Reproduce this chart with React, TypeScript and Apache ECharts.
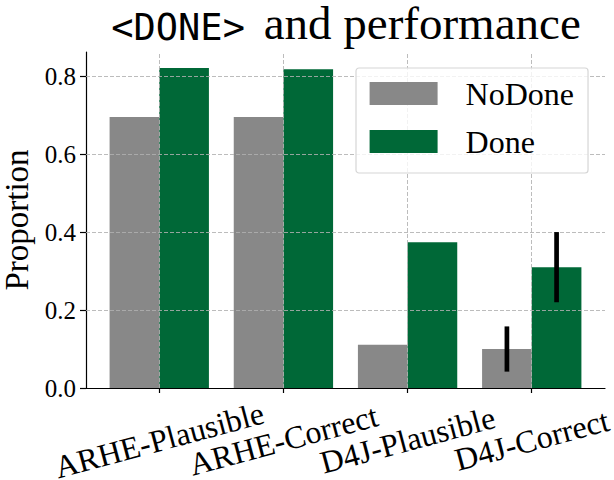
import React, { useEffect, useRef } from 'react';
import * as echarts from 'echarts';

const categories = ['ARHE-Plausible', 'ARHE-Correct', 'D4J-Plausible', 'D4J-Correct'];
const seriesNames = ['NoDone', 'Done'];
const noDoneValues = [0.695, 0.695, 0.111, 0.100];
const doneValues = [0.821, 0.818, 0.374, 0.310];
const noDoneErrors: (number | null)[] = [null, null, null, 0.058];
const doneErrors: (number | null)[] = [null, null, null, 0.090];
const yTicks = [0, 0.2, 0.4, 0.6, 0.8];
const titleMono = '<DONE>';
const titleRest = ' and performance';
const yAxisTitle = 'Proportion';

const GRAY = '#888888';
const GREEN = '#006837';
const BAR_WIDTH = 0.4;
const SERIF = "'Liberation Serif', 'Times New Roman', serif";

export default function App() {
  const ref = useRef<HTMLDivElement>(null);

  useEffect(() => {
    const chart = echarts.init(ref.current!, null, { renderer: 'svg' });
    const catIdx = categories.map((_, i) => i);

    const barRender = (offset: number) => (params: any, api: any) => {
      const x = api.value(0);
      const y = api.value(1);
      const p0 = api.coord([x + offset - BAR_WIDTH / 2, y]);
      const p1 = api.coord([x + offset + BAR_WIDTH / 2, 0]);
      return {
        type: 'rect',
        shape: { x: p0[0], y: p0[1], width: p1[0] - p0[0], height: p1[1] - p0[1] },
        style: { fill: api.visual('color') },
      };
    };

    const errData: number[][] = [];
    noDoneValues.forEach((v, i) => {
      const e = noDoneErrors[i];
      if (e != null) errData.push([i - BAR_WIDTH / 2, v, e]);
    });
    doneValues.forEach((v, i) => {
      const e = doneErrors[i];
      if (e != null) errData.push([i + BAR_WIDTH / 2, v, e]);
    });

    const gridLineData: any[] = [
      ...catIdx.map((i) => ({ xAxis: i })),
      ...yTicks.filter((t) => t > 0).map((t) => ({ yAxis: t })),
    ];

    const option: any = {
      animation: false,
      backgroundColor: '#ffffff',
      title: {
        text: `{tt|${titleMono}}{rm|${titleRest}}`,
        left: 346,
        top: 0,
        textAlign: 'center',
        padding: 0,
        textStyle: {
          fontWeight: 'normal',
          rich: {
            tt: { fontFamily: "'DejaVu Sans Mono', monospace", fontWeight: 'normal', fontSize: 37, color: '#000', verticalAlign: 'bottom', lineHeight: 46, padding: [0, 7, 0, 0] },
            rm: { fontFamily: SERIF, fontWeight: 'normal', fontSize: 47, color: '#000', verticalAlign: 'bottom', lineHeight: 46 },
          },
        },
      },
      legend: {
        data: seriesNames,
        orient: 'vertical',
        left: 356,
        top: 68,
        icon: 'rect',
        itemWidth: 68,
        itemHeight: 23,
        itemGap: 16,
        selectedMode: false,
        padding: [9.5, 14, 15.5, 13.6],
        backgroundColor: 'rgba(255,255,255,0.8)',
        borderColor: '#d6d6d6',
        borderWidth: 1.2,
        borderRadius: 3,
        textStyle: { fontFamily: SERIF, fontSize: 32, color: '#000', lineHeight: 32, padding: [0, 0, 0, 23] },
      },
      grid: { left: 86, right: 9, top: 52, bottom: 92, containLabel: false, outerBoundsMode: 'none' },
      xAxis: {
        type: 'value',
        min: -0.59,
        max: 3.59,
        axisLine: { show: true, onZero: false, lineStyle: { color: '#000', width: 1.2 } },
        axisTick: { show: true, customValues: catIdx, length: 5, lineStyle: { color: '#000', width: 1.2 } },
        axisLabel: {
          customValues: catIdx,
          formatter: (v: number) => categories[Math.round(v)] ?? '',
          rotate: 15,
          align: 'center',
          verticalAlign: 'middle',
          margin: 52,
          showMinLabel: true,
          showMaxLabel: true,
          hideOverlap: false,
          fontFamily: SERIF,
          fontSize: 32,
          color: '#000',
        },
        splitLine: { show: false },
      },
      yAxis: {
        type: 'value',
        min: 0,
        max: 0.862,
        name: yAxisTitle,
        nameLocation: 'middle',
        nameRotate: 90,
        nameGap: 50,
        nameTextStyle: { fontFamily: SERIF, fontSize: 33, color: '#000' },
        axisLine: { show: true, onZero: false, lineStyle: { color: '#000', width: 1.2 } },
        axisTick: { show: true, customValues: yTicks, length: 6, lineStyle: { color: '#000', width: 1.2 } },
        axisLabel: {
          customValues: yTicks,
          formatter: (v: number) => v.toFixed(1),
          margin: 10,
          showMinLabel: true,
          showMaxLabel: true,
          fontFamily: SERIF,
          fontSize: 25,
          color: '#000',
        },
        splitLine: { show: false },
      },
      series: [
        {
          name: seriesNames[0],
          type: 'custom',
          z: 2,
          itemStyle: { color: GRAY },
          renderItem: barRender(-BAR_WIDTH / 2),
          data: noDoneValues.map((v, i) => [i, v]),
          markLine: {
            silent: true,
            z: 3,
            symbol: ['none', 'none'],
            label: { show: false },
            emphasis: { disabled: true },
            lineStyle: { color: 'rgba(176,176,176,0.85)', width: 1, type: [4, 2] },
            data: gridLineData,
          },
        },
        {
          name: seriesNames[1],
          type: 'custom',
          z: 2,
          itemStyle: { color: GREEN },
          renderItem: barRender(BAR_WIDTH / 2),
          data: doneValues.map((v, i) => [i, v]),
        },
        {
          name: 'errors',
          type: 'custom',
          z: 6,
          silent: true,
          renderItem: (params: any, api: any) => {
            const x = api.value(0);
            const y = api.value(1);
            const e = api.value(2);
            const a = api.coord([x, y - e]);
            const b = api.coord([x, y + e]);
            return {
              type: 'line',
              shape: { x1: a[0], y1: a[1], x2: b[0], y2: b[1] },
              style: { stroke: '#000', lineWidth: 4.7 },
            };
          },
          data: errData,
        },
      ],
    };

    chart.setOption(option);
    return () => chart.dispose();
  }, []);

  return (
    <div
      ref={ref}
      style={{ position: 'fixed', left: 0, top: 0, width: 614, height: 480, background: '#fff' }}
    />
  );
}
